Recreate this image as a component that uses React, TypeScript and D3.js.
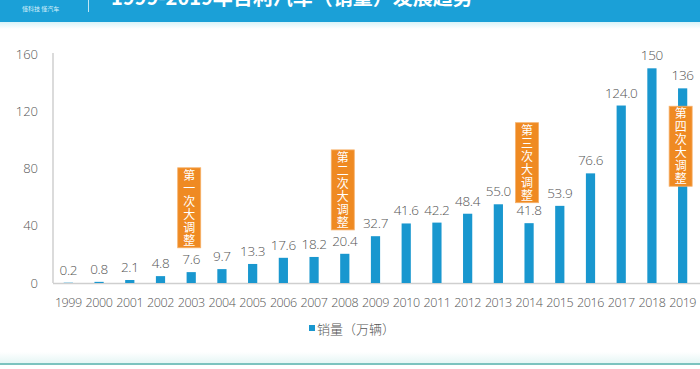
import React from "react";
import * as d3 from "d3";

const years = ["1999","2000","2001","2002","2003","2004","2005","2006","2007","2008","2009","2010","2011","2012","2013","2014","2015","2016","2017","2018","2019"];
const sales = [0.2,0.8,2.1,4.8,7.6,9.7,13.3,17.6,18.2,20.4,32.7,41.6,42.2,48.4,55.0,41.8,53.9,76.6,124.0,150,136];
const salesLabels = ["0.2","0.8","2.1","4.8","7.6","9.7","13.3","17.6","18.2","20.4","32.7","41.6","42.2","48.4","55.0","41.8","53.9","76.6","124.0","150","136"];
const yTicks = [0,40,80,120,160];
const noteYears = ["2003","2008","2014","2019"];
const noteTexts = ["第一次大调整","第二次大调整","第三次大调整","第四次大调整"];
const noteTopValues = [80.5, 93, 112, 123.5];
const title = "1999-2019年吉利汽车（销量）发展趋势";
const brand = "懂科技 懂汽车";
const legendLabel = "销量（万辆）";

const W = 700, H = 369;
const left = 53, right = 698, top = 54, bottom = 283;
const BLUE = "#1997cf";
const ORANGE = "#ef8a22";
const GRAY = "#555555";
const FONT = "'Open Sans','Noto Sans CJK SC',sans-serif";
const CJK = "'Noto Sans CJK SC',sans-serif";

export default function App() {
  const x = d3.scaleBand<string>().domain(years).range([left, right]).padding(0);
  const y = d3.scaleLinear().domain([0, 160]).range([bottom, top]);
  const bw = x.bandwidth() * 0.3;
  const lh = 13;
  return (
    <svg width={W} height={H} style={{ position: "absolute", left: 0, top: 0, background: "#fff" }} fontFamily={FONT}>
      <defs>
        <linearGradient id="hshadow" x1="0" y1="0" x2="0" y2="1">
          <stop offset="0" stopColor="#d9f3f8" />
          <stop offset="1" stopColor="#ffffff" />
        </linearGradient>
        <linearGradient id="fshadow" x1="0" y1="0" x2="0" y2="1">
          <stop offset="0" stopColor="#ffffff" />
          <stop offset="1" stopColor="#e6f6f5" />
        </linearGradient>
      </defs>
      {/* header */}
      <rect x={0} y={22} width={W} height={7} fill="url(#hshadow)" />
      <rect x={0} y={0} width={W} height={22} fill="#1ba0d7" />
      <text x={22} y={11} fontSize={6} fill="#d8f0fa" fontFamily={CJK}>{brand}</text>
      <line x1={88.5} x2={88.5} y1={0} y2={12} stroke="#bfe6f5" strokeWidth={1} />
      <text x={111} y={5} fontSize={20} fontWeight="bold" fill="#fff" fontFamily={CJK}>{title}</text>

      {/* axes */}
      <line x1={left} x2={left} y1={top - 1} y2={bottom} stroke="#cfcfcf" strokeWidth={1.5} />
      <line x1={left} x2={W} y1={bottom + 0.5} y2={bottom + 0.5} stroke="#cfcfcf" strokeWidth={1.5} />
      {yTicks.map(t => (
        <text key={t} x={38} y={y(t)} dy="0.35em" textAnchor="end" fontSize={13} fill={GRAY} fontWeight={300}>{t}</text>
      ))}
      {years.map(yr => (
        <text key={yr} x={x(yr)! + x.bandwidth() / 2} y={303} dy="0.35em" textAnchor="middle" fontSize={12.5} fill={GRAY} fontWeight={300} letterSpacing={-0.4}>{yr}</text>
      ))}

      {/* bars */}
      {years.map((yr, i) => (
        <rect key={yr} x={x(yr)! + (x.bandwidth() - bw) / 2} y={y(sales[i])} width={bw} height={bottom - y(sales[i])} fill={BLUE} />
      ))}
      {years.map((yr, i) => (
        <text key={yr} x={x(yr)! + x.bandwidth() / 2} y={y(sales[i]) - 8} textAnchor="middle" fontSize={13.5} fill={GRAY} fontWeight={300} letterSpacing={-0.3}>{salesLabels[i]}</text>
      ))}

      {/* annotation boxes */}
      {noteYears.map((yr, j) => {
        const cx = x(yr)! + x.bandwidth() / 2 - 2;
        const n = Array.from(noteTexts[j]).length;
        const boxTop = y(noteTopValues[j]);
        return (
          <g key={yr}>
            <rect x={cx - 11.5} y={boxTop} width={23} height={n * lh + 2} fill={ORANGE} stroke="#f6b06a" strokeWidth={0.8} />
            <text x={cx} y={boxTop + 1.5} fontSize={12} fill="#fff" fontFamily={CJK} letterSpacing={1}
              style={{ writingMode: "vertical-rl", textOrientation: "upright" } as React.CSSProperties}>{noteTexts[j]}</text>
          </g>
        );
      })}

      {/* legend */}
      <rect x={309} y={325} width={6} height={6} fill={BLUE} />
      <text x={317} y={329} dy="0.35em" fontSize={13} fill={GRAY} fontFamily={CJK} fontWeight={300}>{legendLabel}</text>

      {/* footer */}
      <rect x={0} y={352} width={W} height={11} fill="url(#fshadow)" />
      <rect x={0} y={363} width={W} height={2} fill="#7cc3bf" />
    </svg>
  );
}
